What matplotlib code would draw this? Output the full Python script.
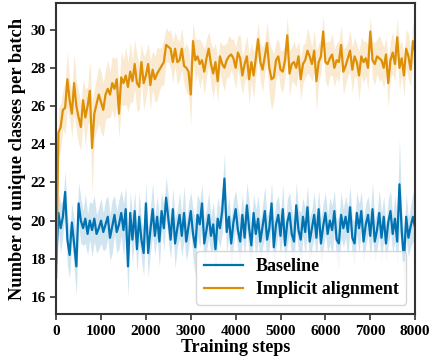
import matplotlib
matplotlib.use("Agg")
import matplotlib.pyplot as plt
import numpy as np

steps = np.arange(0, 8001, 50)

implicit_mean = [
    17.0, 24.6, 24.9, 25.8, 25.9, 27.4, 26.3, 25.6, 27.2, 26.0,
    25.4, 24.9, 26.3, 25.4, 26.0, 26.8, 23.8, 25.6, 26.1, 26.6,
    26.2, 25.8, 26.6, 26.9, 26.6, 27.2, 26.9, 27.4, 25.6, 27.5,
    27.2, 27.6, 27.0, 27.8, 27.3, 28.2, 27.2, 27.0, 28.3, 27.2,
    27.6, 28.2, 27.1, 27.9, 27.4, 27.7, 27.9, 28.1, 28.3, 29.2,
    29.1, 29.0, 28.3, 29.0, 28.3, 28.4, 29.0, 28.1, 28.0, 27.8,
    26.6, 29.4, 28.4, 28.6, 28.2, 28.4, 27.8, 28.5, 29.0, 28.2,
    27.7, 28.3, 27.3, 28.6, 28.2, 28.0, 28.4, 28.6, 28.7, 28.5,
    28.0, 28.8, 28.5, 27.6, 28.2, 28.6, 27.4, 28.3, 27.6, 28.5,
    29.5, 28.3, 27.9, 28.6, 29.3, 28.0, 27.4, 27.5, 28.4, 28.6,
    27.9, 27.8, 28.4, 29.7, 27.7, 28.2, 28.3, 28.0, 28.6, 27.4,
    28.2, 28.4, 28.9, 28.6, 28.2, 28.9, 27.3, 28.3, 28.6, 29.9,
    28.3, 28.2, 28.5, 28.7, 28.0, 28.4, 28.3, 29.2, 27.8, 28.1,
    28.5, 28.9, 27.9, 28.6, 28.3, 27.6, 28.6, 28.3, 28.5, 28.0,
    29.9, 28.4, 28.2, 28.6, 28.5, 28.4, 28.0, 28.7, 27.2, 28.4,
    28.8, 28.2, 29.6, 28.0, 28.5, 27.6, 29.0, 28.6, 27.9, 29.4,
    28.8,
]
implicit_std = [
    1.8, 1.3, 1.2, 1.0, 1.4, 1.5, 1.0, 1.2, 1.6, 1.3,
    1.4, 1.2, 1.1, 1.5, 1.0, 1.6, 2.4, 1.3, 1.4, 1.5,
    1.6, 1.4, 1.3, 1.5, 1.2, 1.4, 1.6, 1.2, 1.3, 1.4,
    1.2, 1.5, 1.3, 1.6, 1.1, 1.3, 1.5, 1.2, 1.0, 1.4,
    1.2, 1.1, 1.3, 1.0, 1.2, 1.4, 1.1, 1.0, 1.2, 0.9,
    0.8, 1.0, 1.1, 0.9, 1.2, 1.0, 1.1, 0.9, 1.3, 1.2,
    1.6, 1.0, 1.1, 0.9, 1.3, 0.9, 1.2, 1.0, 0.9, 1.1,
    1.3, 1.0, 1.1, 0.8, 1.0, 1.2, 0.9, 1.1, 0.8, 1.0,
    1.1, 0.9, 1.2, 1.0, 0.9, 1.1, 1.3, 1.0, 1.2, 0.9,
    0.9, 1.0, 1.2, 0.8, 1.1, 1.4, 1.6, 1.2, 1.0, 0.9,
    1.0, 1.1, 0.9, 1.0, 1.2, 0.9, 1.1, 1.0, 0.8, 1.1,
    1.0, 0.9, 1.2, 1.0, 0.9, 1.1, 1.6, 1.0, 0.9, 0.8,
    1.0, 1.2, 0.9, 1.1, 1.0, 0.9, 1.1, 1.0, 1.2, 1.0,
    0.9, 1.1, 1.2, 1.0, 0.9, 1.3, 1.0, 1.1, 0.9, 1.2,
    0.8, 1.0, 1.1, 0.9, 1.2, 1.0, 1.1, 0.9, 1.3, 1.0,
    1.1, 0.9, 1.0, 1.2, 0.9, 1.1, 1.0, 1.2, 0.9, 1.0,
    1.1,
]

baseline_mean = [
    17.8, 20.4, 19.6, 20.2, 21.5, 19.0, 18.2, 19.9, 18.8, 17.6,
    20.9, 20.0, 19.6, 20.1, 19.3, 20.0, 19.5, 20.1, 19.3, 19.6,
    20.0, 19.4, 19.8, 20.2, 19.1, 19.7, 20.3, 19.4, 19.8, 20.4,
    19.5, 20.6, 17.6, 20.4, 19.0, 20.5, 18.5, 20.2, 19.0, 18.3,
    20.9, 18.3, 19.5, 20.6, 19.2, 20.2, 18.9, 20.5, 19.6, 21.2,
    20.1, 19.0, 20.6, 18.8, 19.6, 20.3, 19.2, 20.4, 18.9, 19.7,
    20.5, 19.3, 18.6, 20.3, 19.8, 20.9, 18.8, 19.5, 20.3, 19.2,
    19.8, 18.5, 20.1, 19.6, 20.5, 22.2, 19.4, 20.2, 18.8, 19.9,
    20.6, 19.5, 18.9, 20.3, 19.1, 20.8, 19.6, 18.7, 20.4, 19.3,
    20.1, 18.9, 19.7, 20.5, 19.0, 19.6, 20.9, 18.6, 19.8, 20.3,
    19.2, 20.6, 18.7, 19.9, 20.4, 19.3, 18.9, 20.8, 19.5, 19.0,
    20.2, 19.4, 20.7, 18.9, 19.6, 20.3, 19.1, 20.6, 18.8, 19.7,
    20.4, 19.3, 20.0, 19.5, 20.5, 19.0, 18.8, 20.3, 19.6, 20.2,
    19.4, 20.7, 19.1, 18.8, 20.4, 19.6, 20.5, 18.9, 19.8, 20.3,
    19.2, 20.6, 18.9, 19.5, 20.4, 19.1, 20.2, 18.8, 19.9, 20.5,
    19.3, 20.1, 18.9, 21.9, 19.5, 17.9, 20.2, 19.1, 19.7, 20.2,
    19.6,
]
baseline_std = [
    1.3, 1.0, 1.3, 0.9, 1.1, 1.4, 1.2, 1.0, 1.3, 1.5,
    1.1, 1.2, 0.9, 1.3, 1.1, 1.0, 1.4, 1.2, 1.0, 1.1,
    1.2, 1.0, 1.3, 1.1, 1.2, 1.4, 1.0, 1.1, 1.3, 1.2,
    1.4, 1.2, 1.6, 1.1, 1.3, 1.0, 1.2, 1.3, 1.0, 1.2,
    1.1, 1.3, 1.2, 1.4, 1.0, 1.1, 1.3, 1.0, 1.2, 1.1,
    1.2, 1.0, 1.1, 1.3, 1.0, 1.2, 1.1, 1.4, 1.0, 1.2,
    1.0, 1.3, 1.5, 1.1, 1.2, 1.0, 1.3, 1.1, 1.2, 1.0,
    1.2, 1.4, 1.1, 1.0, 1.2, 1.3, 1.1, 1.0, 1.3, 1.2,
    1.0, 1.2, 1.3, 1.1, 1.0, 1.2, 1.4, 1.1, 1.0, 1.3,
    1.2, 1.0, 1.1, 1.3, 1.2, 1.0, 1.1, 1.4, 1.2, 1.0,
    1.1, 1.3, 1.0, 1.2, 1.1, 1.3, 1.0, 1.2, 1.1, 1.4,
    1.0, 1.2, 1.1, 1.3, 1.0, 1.2, 1.1, 1.0, 1.3, 1.2,
    1.1, 1.0, 1.2, 1.3, 1.1, 1.0, 1.4, 1.2, 1.0, 1.1,
    1.3, 1.1, 1.0, 1.2, 1.1, 1.3, 1.0, 1.2, 1.1, 1.0,
    1.2, 1.4, 1.1, 1.0, 1.2, 1.3, 1.1, 1.0, 1.2, 1.1,
    1.0, 1.2, 1.3, 2.4, 1.1, 1.4, 1.2, 1.0, 1.1, 1.3,
    1.2,
]

plt.rcParams["font.family"] = ["Liberation Serif", "DejaVu Serif"]
plt.rcParams["font.weight"] = "bold"

blue = "#0173B2"
orange = "#DE8F05"

fig = plt.figure(figsize=(4.32, 3.64), dpi=100)
ax = fig.add_axes([0.13, 0.137, 0.831, 0.855])

for mean, std, color, label in [
    (baseline_mean, baseline_std, blue, "Baseline"),
    (implicit_mean, implicit_std, orange, "Implicit alignment"),
]:
    m = np.array(mean)
    s = np.array(std)
    ax.fill_between(steps, m - s, m + s, color=color, alpha=0.18, linewidth=0)
    ax.plot(steps, m, color=color, linewidth=1.6, label=label)

ax.set_xlim(0, 8000)
ax.set_ylim(15.1, 31.4)
ax.set_xticks(range(0, 8001, 1000))
ax.set_yticks(range(16, 31, 2))
ax.tick_params(direction="out", length=4, width=1.2, labelsize=11, color="#333333")
for lbl in ax.get_xticklabels() + ax.get_yticklabels():
    lbl.set_fontweight("bold")
for sp in ax.spines.values():
    sp.set_color("#333333")
    sp.set_linewidth(1.5)

ax.set_xlabel("Training steps", fontsize=13, fontweight="bold", labelpad=1)
ax.set_ylabel("Number of unique classes per batch", fontsize=13.3, fontweight="bold", labelpad=3)

leg = ax.legend(loc="lower right", prop={"size": 13, "weight": "bold"},
                handlelength=2.2, handletextpad=0.7, framealpha=0.8,
                edgecolor="#cccccc", borderaxespad=0.5, labelspacing=0.3)

fig.savefig("out.png", dpi=100)
